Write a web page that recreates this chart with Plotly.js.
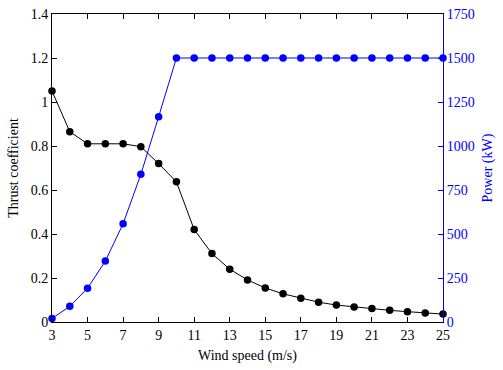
<!DOCTYPE html>
<html>
<head>
<meta charset="utf-8">
<script src="https://cdn.plot.ly/plotly-3.0.1.min.js"></script>
<style>
  html, body { margin: 0; padding: 0; background: #fff; }
  #chart { width: 503px; height: 370px; }
</style>
</head>
<body>
<div id="chart"></div>
<script>
// ===============================
// DATA
// ===============================

let windSpeed = [3,4,5,6,7,8,9,10,11,12,13,14,15,16,17,18,19,20,21,22,23,24,25];

let thrustCoef = [1.05,0.865,0.81,0.81,0.81,0.797,0.72,0.637,0.42,0.311,0.240,0.191,0.155,0.128,0.108,0.090,0.077,0.068,0.061,0.053,0.047,0.041,0.036];

let powerKW = [20,89,192,346,558,839,1166,1500,1500,1500,1500,1500,1500,1500,1500,1500,1500,1500,1500,1500,1500,1500,1500];

let xTicks = [3,5,7,9,11,13,15,17,19,21,23,25];

// ===============================
// CHART
// ===============================

let serif = 'Liberation Serif, Times New Roman, serif';
let blue = '#0000ff';

Plotly.newPlot('chart',

[
{
    x: windSpeed,
    y: thrustCoef,
    type: 'scatter',
    mode: 'lines+markers',
    cliponaxis: false,
    line: { color: '#000000', width: 1 },
    marker: { color: '#000000', size: 7.5 },
    yaxis: 'y'
},
{
    x: windSpeed,
    y: powerKW,
    type: 'scatter',
    mode: 'lines+markers',
    cliponaxis: false,
    line: { color: blue, width: 1 },
    marker: { color: blue, size: 7.5 },
    yaxis: 'y2'
}
],

{
    width: 503,
    height: 370,
    margin: { l: 52, r: 60, t: 14, b: 48 },
    paper_bgcolor: '#ffffff',
    plot_bgcolor: '#ffffff',
    showlegend: false,
    font: { family: serif, size: 14, color: '#000000' },

    xaxis: {
        range: [3, 25],
        tickvals: xTicks,
        ticks: 'inside',
        ticklen: 5,
        tickcolor: '#000000',
        showline: true,
        linecolor: '#000000',
        linewidth: 1,
        mirror: 'ticks',
        showgrid: false,
        zeroline: false,
        title: { text: 'Wind speed (m/s)', standoff: 8, font: { family: serif, size: 14 } }
    },

    yaxis: {
        range: [0, 1.4],
        dtick: 0.2,
        ticks: 'inside',
        ticklen: 5,
        tickcolor: '#000000',
        showline: true,
        linecolor: '#000000',
        linewidth: 1,
        showgrid: false,
        zeroline: false,
        title: { text: 'Thrust coefficient', standoff: 8, font: { family: serif, size: 14 } }
    },

    yaxis2: {
        overlaying: 'y',
        side: 'right',
        range: [0, 1750],
        dtick: 250,
        ticks: 'inside',
        ticklen: 5,
        tickcolor: blue,
        tickfont: { color: blue },
        showline: true,
        linecolor: blue,
        linewidth: 1,
        showgrid: false,
        zeroline: false,
        title: { text: 'Power (kW)', standoff: 8, font: { family: serif, size: 14, color: blue } }
    }
},

{
    displayModeBar: false,
    staticPlot: true
});
</script>
</body>
</html>
